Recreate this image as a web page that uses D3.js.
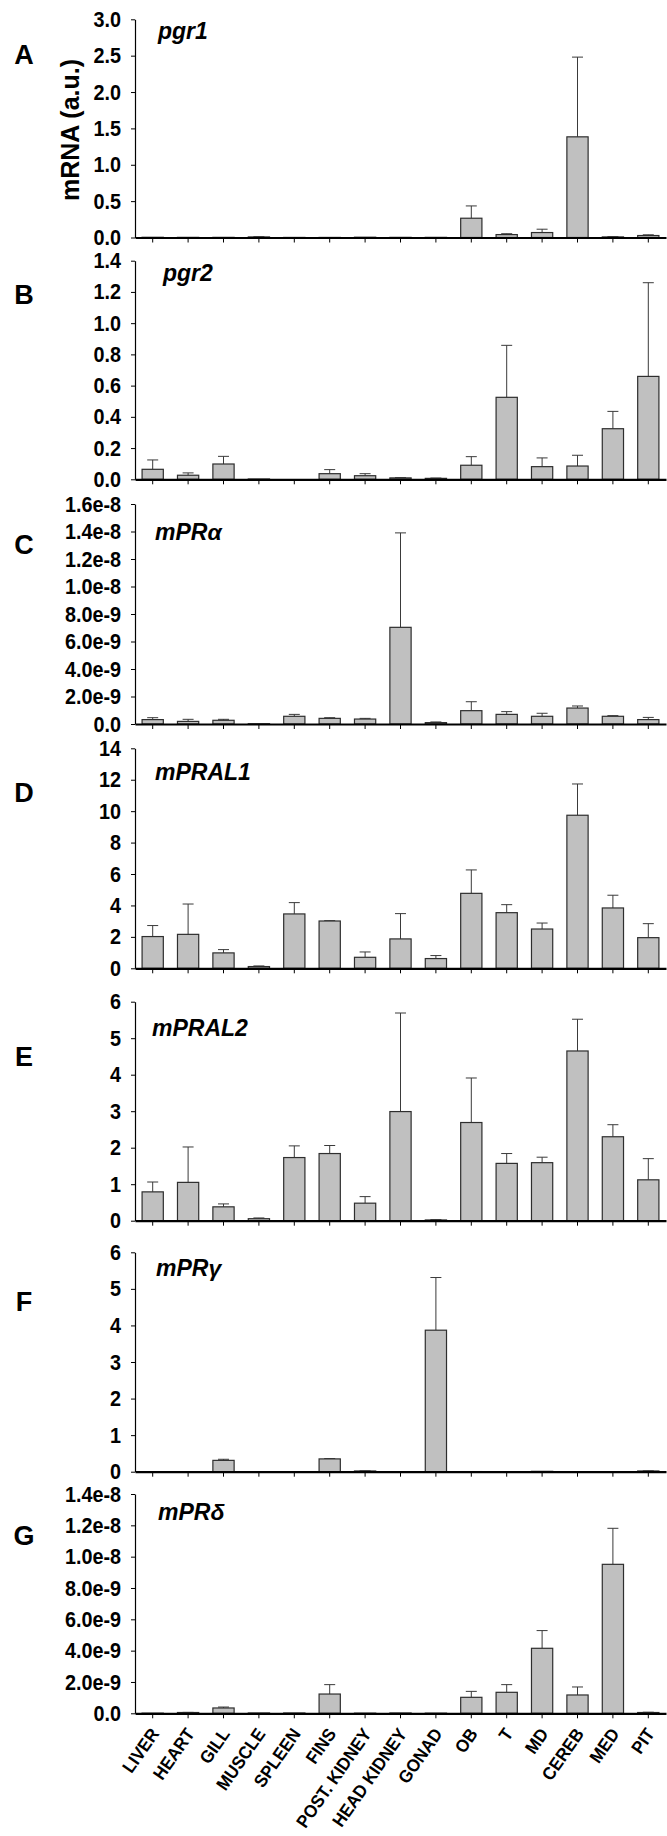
<!DOCTYPE html>
<html><head><meta charset="utf-8">
<script src="https://cdn.jsdelivr.net/npm/d3@7"></script>
<style>
body{margin:0;background:#fff}
svg{display:block}
text{font-family:"Liberation Sans",Arial,sans-serif;font-weight:bold;fill:#000}
</style>
</head><body>
<svg id="chart" width="667" height="1836"></svg>
<script>
const categories = ["LIVER","HEART","GILL","MUSCLE","SPLEEN","FINS","POST. KIDNEY","HEAD KIDNEY","GONAD","OB","T","MD","CEREB","MED","PIT"];

const pgr1Mean = [0.003,0.002,0.002,0.008,0.001,0.001,0.004,0.002,0.002,0.265,0.040,0.068,1.384,0.008,0.027];
const pgr1Err  = [0,0,0,0.004,0,0,0,0,0,0.169,0.012,0.046,1.096,0.005,0.010];
const pgr1Ticks = [0,0.5,1.0,1.5,2.0,2.5,3.0];

const pgr2Mean = [0.064,0.026,0.098,0.002,0,0.036,0.023,0.009,0.006,0.090,0.525,0.081,0.085,0.324,0.659];
const pgr2Err  = [0.060,0.015,0.049,0,0,0.026,0.013,0.002,0.002,0.055,0.333,0.056,0.069,0.111,0.600];
const pgr2Ticks = [0,0.2,0.4,0.6,0.8,1.0,1.2,1.4];

const mPRaMean = [0.32e-9,0.19e-9,0.27e-9,0.02e-9,0.56e-9,0.41e-9,0.36e-9,7.03e-9,0.10e-9,0.97e-9,0.70e-9,0.56e-9,1.16e-9,0.56e-9,0.32e-9];
const mPRaErr  = [0.14e-9,0.15e-9,0.07e-9,0,0.14e-9,0.05e-9,0.05e-9,6.87e-9,0.05e-9,0.65e-9,0.20e-9,0.22e-9,0.15e-9,0.05e-9,0.16e-9];
const mPRaTicks = [0,2e-9,4e-9,6e-9,8e-9,1.0e-8,1.2e-8,1.4e-8,1.6e-8];

const mPRAL1Mean = [2.02,2.16,0.98,0.11,3.46,3.01,0.70,1.87,0.62,4.77,3.54,2.50,9.74,3.84,1.95];
const mPRAL1Err  = [0.70,1.93,0.21,0.04,0.72,0.02,0.34,1.61,0.19,1.49,0.51,0.38,1.99,0.81,0.89];
const mPRAL1Ticks = [0,2,4,6,8,10,12,14];

const mPRAL2Mean = [0.79,1.05,0.38,0.055,1.73,1.84,0.48,2.99,0.02,2.69,1.57,1.59,4.65,2.30,1.12];
const mPRAL2Err  = [0.27,0.97,0.08,0.02,0.32,0.22,0.18,2.70,0.01,1.22,0.27,0.15,0.87,0.33,0.58];
const mPRAL2Ticks = [0,1,2,3,4,5,6];

const mPRgMean = [0,0,0.31,0,0,0.35,0.02,0,3.87,0.003,0,0.01,0,0,0.02];
const mPRgErr  = [0,0,0.03,0,0,0.01,0.005,0,1.44,0,0,0,0,0,0.005];
const mPRgTicks = [0,1,2,3,4,5,6];

const mPRdMean = [0.01e-9,0.05e-9,0.34e-9,0.02e-9,0.02e-9,1.23e-9,0.01e-9,0.02e-9,0.01e-9,1.02e-9,1.34e-9,4.15e-9,1.17e-9,9.51e-9,0.05e-9];
const mPRdErr  = [0,0.01e-9,0.06e-9,0,0,0.60e-9,0,0,0,0.38e-9,0.49e-9,1.13e-9,0.51e-9,2.30e-9,0.02e-9];
const mPRdTicks = [0,2e-9,4e-9,6e-9,8e-9,1.0e-8,1.2e-8,1.4e-8];

const panelLetters = ["A","B","C","D","E","F","G"];
const geneNames = ["pgr1","pgr2","mPRα","mPRAL1","mPRAL2","mPRγ","mPRδ"];
const yAxisTitle = "mRNA (a.u.)";

const fmtDec = d3.format(".1f");
const fmtExp = v => v === 0 ? "0.0" : d3.format(".1e")(v);
const fmtInt = d3.format("d");

const series = [
  {mean:pgr1Mean, err:pgr1Err, ticks:pgr1Ticks, fmt:fmtDec},
  {mean:pgr2Mean, err:pgr2Err, ticks:pgr2Ticks, fmt:fmtDec},
  {mean:mPRaMean, err:mPRaErr, ticks:mPRaTicks, fmt:fmtExp},
  {mean:mPRAL1Mean, err:mPRAL1Err, ticks:mPRAL1Ticks, fmt:fmtInt},
  {mean:mPRAL2Mean, err:mPRAL2Err, ticks:mPRAL2Ticks, fmt:fmtInt},
  {mean:mPRgMean, err:mPRgErr, ticks:mPRgTicks, fmt:fmtInt},
  {mean:mPRdMean, err:mPRdErr, ticks:mPRdTicks, fmt:fmtExp}
];

// layout (pixels)
const layout = [
  {top:19.3,  bottom:237.5,  letterY:64,   geneX:158, geneY:39},
  {top:260.7, bottom:479.3,  letterY:304,  geneX:163, geneY:281},
  {top:504,   bottom:724,    letterY:554,  geneX:155, geneY:540},
  {top:748.3, bottom:968.3,  letterY:802,  geneX:155, geneY:780},
  {top:1001.7,bottom:1220.7, letterY:1066, geneX:152, geneY:1036},
  {top:1252.3,bottom:1471.7, letterY:1311, geneX:156, geneY:1276},
  {top:1494,  bottom:1713.3, letterY:1545, geneX:158, geneY:1520}
];
const axisX = 135, axisRight = 666;
const tickSX = 0.9;

const svg = d3.select("#chart");
const x = d3.scaleBand().domain(categories).range([axisX, axisRight]).paddingInner(0.4).paddingOuter(0.2);

series.forEach((s, i) => {
  const L = layout[i];
  const dom = s.ticks[s.ticks.length - 1];
  const y = d3.scaleLinear().domain([0, dom]).range([L.bottom, L.top]);
  const g = svg.append("g");
  const rows = categories.map((c, k) => ({c, m: s.mean[k], e: s.err[k]}));

  // error bars (upper only)
  const eb = g.append("g").attr("stroke", "#3a3a3a").attr("stroke-width", 1);
  rows.filter(d => d.e > 0).forEach(d => {
    const cx = x(d.c) + x.bandwidth() / 2;
    eb.append("line").attr("x1", cx).attr("x2", cx).attr("y1", y(d.m)).attr("y2", y(d.m + d.e));
    eb.append("line").attr("x1", cx - 5.5).attr("x2", cx + 5.5).attr("y1", y(d.m + d.e)).attr("y2", y(d.m + d.e));
  });

  // bars
  g.append("g").selectAll("rect").data(rows).join("rect")
    .attr("x", d => x(d.c))
    .attr("width", x.bandwidth())
    .attr("y", d => y(d.m))
    .attr("height", d => Math.max(0, y(0) - y(d.m)))
    .attr("fill", "#c0c0c0")
    .attr("stroke", "#2e2e2e")
    .attr("stroke-width", 1.2);

  // y axis
  const ya = g.append("g").attr("transform", `translate(${axisX},0)`)
    .call(d3.axisLeft(y).tickValues(s.ticks).tickFormat(s.fmt).tickSize(4).tickSizeOuter(0).tickPadding(10));
  ya.select(".domain").attr("stroke", "#000").attr("stroke-width", 1.2);
  ya.selectAll(".tick line").attr("stroke", "#000").attr("stroke-width", 1);
  ya.selectAll(".tick text").style("font-size", "22px").attr("fill", "#000")
    .attr("x", -14 / tickSX).attr("transform", `scale(${tickSX},1)`);

  // x axis
  const xa = g.append("g").attr("transform", `translate(0,${L.bottom})`)
    .call(d3.axisBottom(x).tickSize(5).tickSizeOuter(0).tickFormat(i === 6 ? null : ""));
  xa.select(".domain").attr("stroke", "#000").attr("stroke-width", 2.2);
  xa.selectAll(".tick line").attr("stroke", "#000").attr("stroke-width", 1);
  if (i === 6) {
    xa.selectAll(".tick text")
      .style("font-size", "18px")
      .attr("text-anchor", "end")
      .attr("fill", "#000")
      .attr("x", 0).attr("y", 0).attr("dy", "0.35em")
      .attr("transform", "translate(2,17) rotate(-55) scale(0.93,1)");
  }

  // panel letter
  g.append("text").attr("x", 24).attr("y", L.letterY).attr("text-anchor", "middle")
    .style("font-size", "27px").text(panelLetters[i]);
  // gene name
  g.append("text").attr("x", L.geneX).attr("y", L.geneY)
    .style("font-size", "23px").style("font-style", "italic").text(geneNames[i]);
});

// y axis title
svg.append("text").attr("transform", "translate(79,130) rotate(-90)")
  .attr("text-anchor", "middle").style("font-size", "25px").text(yAxisTitle);
</script>
</body></html>
